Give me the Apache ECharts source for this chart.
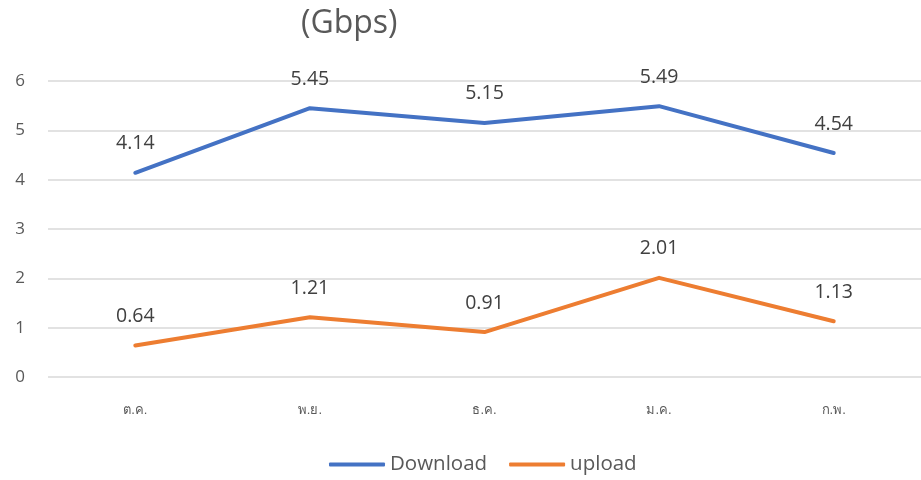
<!DOCTYPE html>
<html><head><meta charset="utf-8">
<script src="https://cdn.jsdelivr.net/npm/echarts@6/dist/echarts.min.js"></script>
<style>html,body{margin:0;padding:0;background:#fff}#c{width:921px;height:480px}</style>
</head><body><div id="c"></div>
<script>
const categories = ['ต.ค.', 'พ.ย.', 'ธ.ค.', 'ม.ค.', 'ก.พ.'];
const downloadValues = [4.14, 5.45, 5.15, 5.49, 4.54];
const uploadValues = [0.64, 1.21, 0.91, 2.01, 1.13];
const yTicks = [0, 1, 2, 3, 4, 5, 6];
const seriesNames = ['Download', 'upload'];
const titleText = '(Gbps)';

const font = '"Open Sans", "Noto Sans", sans-serif';
const chart = echarts.init(document.getElementById('c'));
const mk = (name, data, color) => ({
  name, type: 'line', data, symbol: 'circle', symbolSize: 0.1, showSymbol: true, smooth: false,
  lineStyle: { width: 4, color, cap: 'round', join: 'round' },
  itemStyle: { color },
  label: { show: true, position: 'top', distance: 19, color: '#404040', fontSize: 19.5, fontFamily: font }
});
chart.setOption({
  animation: false,
  title: { text: titleText, left: 296, top: 3,
    textStyle: { fontSize: 32, fontWeight: 'normal', color: '#595959', fontFamily: font } },
  grid: { left: 48, width: 879, top: 81, height: 296 },
  legend: { bottom: 0, left: 324, itemWidth: 56, itemHeight: 4, itemGap: 22,
    icon: 'roundRect',
    textStyle: { fontSize: 20.5, color: '#595959', fontFamily: font, padding: [0,0,0,0] },
    data: seriesNames },
  xAxis: { type: 'category', data: categories, boundaryGap: true,
    axisLine: { show: false }, axisTick: { show: false },
    axisLabel: { margin: 27, fontSize: 13, color: '#595959' } },
  yAxis: { type: 'value', min: yTicks[0], max: yTicks[yTicks.length-1], interval: 1,
    axisLabel: { fontSize: 17, color: '#595959', fontFamily: font, margin: 23 },
    splitLine: { lineStyle: { color: '#d9d9d9', width: 1.5 } } },
  series: [ mk(seriesNames[0], downloadValues, '#4472C4'), mk(seriesNames[1], uploadValues, '#ED7D31') ]
});
</script></body></html>
